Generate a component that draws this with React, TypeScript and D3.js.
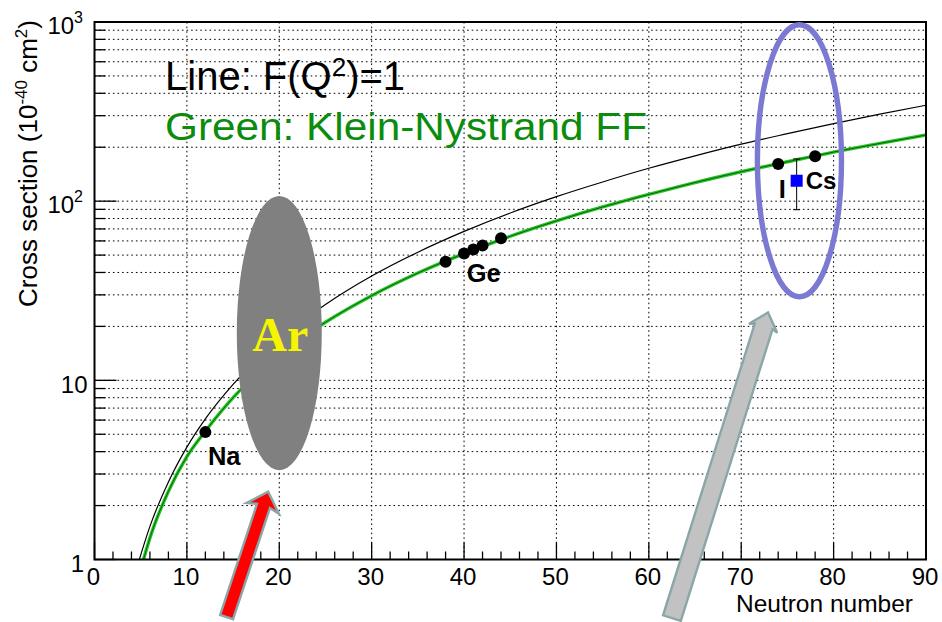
import React from 'react';
import * as d3 from 'd3';

const W = 942;
const H = 622;
const plot = { left: 94.5, right: 926, top: 22, bottom: 559.5 };

// Coherent cross section with F(Q^2)=1
const pointLikeN = [4.85, 6, 8, 10, 12, 15, 20, 25, 30, 35, 40, 45, 50, 55, 60, 65, 70, 75, 80, 85, 90];
const pointLikeXS = [1.0, 1.53, 2.71, 4.24, 6.1, 9.5, 17, 26.5, 38.2, 51.9, 67.8, 85.9, 106, 128, 152.6, 179, 208, 238, 271, 306, 343];

// Coherent cross section with the Klein-Nystrand form factor
const kleinN = [5.3, 6, 8, 10, 12, 15, 20, 25, 30, 35, 40, 45, 50, 55, 60, 65, 70, 75, 80, 85, 90];
const kleinXS = [1.0, 1.32, 2.4, 3.75, 5.2, 8.0, 13.9, 21.1, 29.7, 39.7, 51, 63.7, 77.6, 92.8, 109, 127, 146, 166, 188, 210, 234];

// Target nuclei
const naN = [12];
const naXS = [5.14];
const geN = [38, 40, 41, 42, 44];
const geXS = [45.9, 51.1, 53.8, 56.6, 62.0];
const iN = [74];
const iXS = [161];
const csN = [78];
const csXS = [178];

// CsI measurement
const csiN = [76];
const csiXS = [130];
const csiLow = [89.6];
const csiHigh = [172];

// Axis ticks
const xMajor = [0, 10, 20, 30, 40, 50, 60, 70, 80, 90];
const xMinor = d3.range(0, 91, 2);
const yLabelValues = [1, 10, 100, 1000];
const yLabelBase = ['1', '10', '10', '10'];
const yLabelExp = ['', '', '2', '3'];

// Highlight regions (argon band, CsI region)
const arCenterN = 20;
const arHalfN = 4.6;
const arTop = 107;
const arBottom = 3.15;
const csiCenterN = 76.3;
const csiHalfN = 4.55;
const csiTop = 965;
const csiBottom = 29.3;

// Arrows pointing at the regions
const redTail = [14.3, 0.477];
const redTip = [18.8, 2.39];
const grayTail = [62.5, 0.471];
const grayTip = [72.9, 23.9];

const FONT = 'Liberation Sans, Arial, Helvetica, sans-serif';

function arrowPoints(x0: number, y0: number, x1: number, y1: number, sw: number, hw: number, hl: number, neck: number) {
  const dx = x1 - x0;
  const dy = y1 - y0;
  const L = Math.hypot(dx, dy);
  const ux = dx / L;
  const uy = dy / L;
  const px = -uy;
  const py = ux;
  const nx = x1 - ux * neck;
  const ny = y1 - uy * neck;
  const wx = x1 - ux * hl;
  const wy = y1 - uy * hl;
  const pts = [
    [x0 + px * sw, y0 + py * sw],
    [nx + px * sw, ny + py * sw],
    [wx + px * hw, wy + py * hw],
    [x1, y1],
    [wx - px * hw, wy - py * hw],
    [nx - px * sw, ny - py * sw],
    [x0 - px * sw, y0 - py * sw],
  ];
  return pts.map((p) => p.join(',')).join(' ');
}

export default function App() {
  const x = d3.scaleLinear().domain([0, 90]).range([plot.left, plot.right]);
  const y = d3.scaleLog().domain([1, 1000]).range([plot.bottom, plot.top]);

  const line = d3
    .line<[number, number]>()
    .x((d) => x(d[0]))
    .y((d) => y(d[1]))
    .curve(d3.curveMonotoneX);

  const blackPath = line(pointLikeN.map((n, i) => [n, pointLikeXS[i]] as [number, number])) || '';
  const greenPath = line(kleinN.map((n, i) => [n, kleinXS[i]] as [number, number])) || '';

  const yTicks = y.ticks();
  const isMajorY = (v: number) => Math.abs(Math.log10(v) - Math.round(Math.log10(v))) < 1e-9;

  const arCx = x(arCenterN);
  const arRx = x(arCenterN + arHalfN) - arCx;
  const arCy = (y(arTop) + y(arBottom)) / 2;
  const arRy = (y(arBottom) - y(arTop)) / 2;

  const csiCx = x(csiCenterN);
  const csiRx = x(csiCenterN + csiHalfN) - csiCx;
  const csiCy = (y(csiTop) + y(csiBottom)) / 2;
  const csiRy = (y(csiBottom) - y(csiTop)) / 2;

  const dot = (n: number, v: number, k: string) => (
    <circle key={k} cx={x(n)} cy={y(v)} r={6} fill="#000" />
  );

  return (
    <svg width={W} height={H} style={{ position: 'absolute', left: 0, top: 0, background: '#fff' }} fontFamily={FONT}>
      <defs>
        <clipPath id="plotClip">
          <rect x={plot.left} y={plot.top} width={plot.right - plot.left} height={plot.bottom - plot.top} />
        </clipPath>
      </defs>
      <rect x={0} y={0} width={W} height={H} fill="#fff" />

      {/* grid */}
      <g stroke="#000" strokeWidth={1} strokeDasharray="1.6,3">
        {xMajor.filter((v) => v > 0 && v < 90).map((v) => (
          <line key={'gx' + v} x1={x(v)} x2={x(v)} y1={plot.top} y2={plot.bottom} />
        ))}
        {yTicks.filter((v) => v > 1 && v < 1000).map((v) => (
          <line key={'gy' + v} x1={plot.left} x2={plot.right} y1={y(v)} y2={y(v)} />
        ))}
      </g>

      {/* curves */}
      <g clipPath="url(#plotClip)" fill="none">
        <path d={blackPath} stroke="#000" strokeWidth={1.2} />
        <path d={greenPath} stroke="#22c822" strokeWidth={3.4} />
        <path d={greenPath} stroke="#124012" strokeWidth={0.8} />
      </g>

      {/* nuclei */}
      {naN.map((n, i) => dot(n, naXS[i], 'na' + i))}
      {geN.map((n, i) => dot(n, geXS[i], 'ge' + i))}
      {iN.map((n, i) => dot(n, iXS[i], 'i' + i))}
      {csN.map((n, i) => dot(n, csXS[i], 'cs' + i))}

      {/* CsI measurement */}
      {csiN.map((n, i) => (
        <g key={'csi' + i} stroke="#000" strokeWidth={1}>
          <line x1={x(n)} x2={x(n)} y1={y(csiHigh[i])} y2={y(csiLow[i])} />
          <line x1={x(n) - 3.5} x2={x(n) + 3.5} y1={y(csiHigh[i])} y2={y(csiHigh[i])} />
          <line x1={x(n) - 3.5} x2={x(n) + 3.5} y1={y(csiLow[i])} y2={y(csiLow[i])} />
          <rect x={x(n) - 6} y={y(csiXS[i]) - 6} width={12} height={12} fill="#0000ff" stroke="none" />
        </g>
      ))}

      {/* element labels */}
      <g fontWeight="bold" fontSize={25.5} fill="#000">
        <text x={x(naN[0]) + 2.6} y={y(naXS[0]) + 33}>Na</text>
        <text x={x(geN[1]) + 2.7} y={y(geXS[1]) + 29}>Ge</text>
        <text x={x(iN[0]) + 4} y={y(iXS[0]) + 34} textAnchor="middle">I</text>
        <text x={x(csiN[0]) + 9} y={y(csiXS[0]) + 8.6} fontSize={24}>Cs</text>
      </g>

      {/* legend text */}
      <text x={165} y={90} fontSize={40} fill="#000">
        Line: F(Q<tspan dy={-14} fontSize={26}>2</tspan><tspan dy={14}>)=1</tspan>
      </text>
      <text x={165} y={140} fontSize={38} fill="#0c8c0c" textLength={482} lengthAdjust="spacingAndGlyphs">
        Green: Klein-Nystrand FF
      </text>

      {/* frame and ticks */}
      <g stroke="#000" strokeWidth={1.3}>
        {xMinor.map((v) => (
          <line key={'tx' + v} x1={x(v)} x2={x(v)} y1={plot.bottom} y2={plot.bottom - (v % 10 === 0 ? 17 : 8)} />
        ))}
        {yTicks.map((v) => (
          <line key={'ty' + v} x1={plot.left} x2={plot.left + (isMajorY(v) ? 22 : 11)} y1={y(v)} y2={y(v)} />
        ))}
      </g>
      <rect x={plot.left} y={plot.top} width={plot.right - plot.left} height={plot.bottom - plot.top} fill="none" stroke="#000" strokeWidth={2} />

      {/* tick labels */}
      <g fontSize={24} fill="#000">
        {xMajor.map((v) => (
          <text key={'lx' + v} x={x(v) - 1} y={585} textAnchor="middle">{v}</text>
        ))}
        {yLabelValues.map((v, i) =>
          yLabelExp[i] ? (
            <text key={'ly' + v} x={83} y={y(v) + 12} textAnchor="end">
              {yLabelBase[i]}
              <tspan dy={-11} fontSize={16}>{yLabelExp[i]}</tspan>
            </text>
          ) : (
            <text key={'ly' + v} x={i === 0 ? 84 : 87.5} y={y(v) + 12.5} textAnchor="end">{yLabelBase[i]}</text>
          )
        )}
      </g>

      {/* axis titles */}
      <text x={913} y={612} fontSize={24.5} textAnchor="end" fill="#000">Neutron number</text>
      <text transform="translate(36.5,20) rotate(-90)" fontSize={26} textAnchor="end" fill="#000">
        Cross section (10<tspan dy={-10} fontSize={17}>-40</tspan><tspan dy={10}> cm</tspan><tspan dy={-10} fontSize={17}>2</tspan><tspan dy={10}>)</tspan>
      </text>

      {/* argon band */}
      <ellipse cx={arCx} cy={arCy} rx={arRx} ry={arRy} fill="#808080" />
      <text x={arCx + 1} y={arCy + 18} fontSize={48} fontWeight="bold" fontFamily="Liberation Serif, Times New Roman, serif" fill="#f5f500" textAnchor="middle">Ar</text>

      {/* CsI region */}
      <ellipse cx={csiCx} cy={csiCy} rx={csiRx} ry={csiRy} fill="none" stroke="#7b79d2" strokeWidth={5.4} />

      {/* arrows */}
      <polygon
        points={arrowPoints(x(redTail[0]), y(redTail[1]), x(redTip[0]), y(redTip[1]), 6.8, 17, 17.5, 15)}
        fill="#ff0000"
        stroke="#8aa6a8"
        strokeWidth={2.4}
        strokeLinejoin="miter"
      />
      <polygon
        points={arrowPoints(x(grayTail[0]), y(grayTail[1]), x(grayTip[0]), y(grayTip[1]), 9.3, 14.8, 16.5, 14.5)}
        fill="#c2c2c2"
        stroke="#8aa6a8"
        strokeWidth={2.4}
        strokeLinejoin="miter"
      />
    </svg>
  );
}
